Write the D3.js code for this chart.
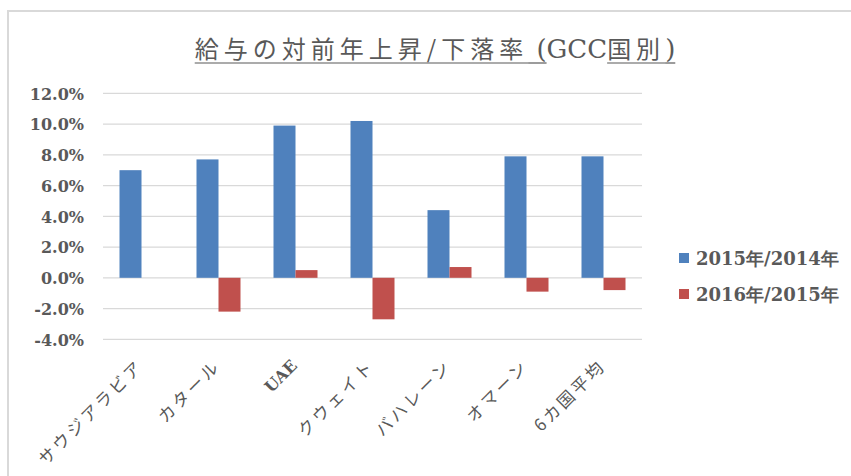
<!DOCTYPE html>
<html>
<head>
<meta charset="utf-8">
<script src="https://cdn.jsdelivr.net/npm/d3@7"></script>
<style>
  html, body { margin: 0; padding: 0; background: #fff; }
  svg { display: block; }
</style>
</head>
<body>
<div id="chart"></div>
<script>
var categories = ['サウジアラビア', 'カタール', 'UAE', 'クウェイト', 'バハレーン', 'オマーン', '6カ国平均']
var seriesNames = ['2015年/2014年', '2016年/2015年']
var values2015 = [7.0, 7.7, 9.9, 10.2, 4.4, 7.9, 7.9]
var values2016 = [null, -2.2, 0.5, -2.7, 0.7, -0.9, -0.8]
var yTicks = [-4, -2, 0, 2, 4, 6, 8, 10, 12]
var colors = ['#4F81BD', '#C0504D']

var W = 851, H = 476
var serif = '"DejaVu Serif", "Liberation Serif", serif'
var cjk = '"Noto Sans CJK JP", "Noto Sans CJK SC", sans-serif'
var textColor = '#595959'
var isLatin = function (s) { return /^[A-Z]+$/.test(s) }

var svg = d3.select('#chart').append('svg')
            .attr('width', W)
            .attr('height', H)

// chart border (runs off the right and bottom edges)
svg.append('rect')
   .attr('x', 8).attr('y', 11)
   .attr('width', W + 20).attr('height', H + 20)
   .attr('fill', 'none')
   .attr('stroke', '#D9D9D9')
   .attr('stroke-width', 2)

var plot = { left: 103, right: 642, top: 93.3, bottom: 339.3 }

var y = d3.scaleLinear().domain([-4, 12]).range([plot.bottom, plot.top])
var x0 = d3.scaleBand().domain(categories).range([plot.left, plot.right]).padding(0)
var x1 = d3.scaleBand().domain(seriesNames).range([0, x0.bandwidth()])
           .paddingInner(0).paddingOuter(0.75)

// gridlines
svg.append('g')
   .selectAll('line')
   .data(yTicks)
   .join('line')
   .attr('x1', plot.left).attr('x2', plot.right)
   .attr('y1', d => y(d)).attr('y2', d => y(d))
   .attr('stroke', '#D9D9D9')
   .attr('stroke-width', 1.3)

// y axis labels
var yAxis = d3.axisLeft(y).tickValues(yTicks).tickSize(0).tickPadding(0)
              .tickFormat(d => d.toFixed(1) + '%')
var gy = svg.append('g').attr('transform', 'translate(84,0)').call(yAxis)
gy.attr('font-family', null).attr('font-size', null)
gy.select('.domain').remove()
gy.selectAll('text')
  .attr('font-family', serif)
  .attr('font-weight', 'bold')
  .attr('font-size', 16)
  .attr('fill', textColor)
  .attr('dy', '0.36em')

// bars
var series = [values2015, values2016]
var rows = []
categories.forEach(function (c, i) {
  series.forEach(function (s, j) {
    if (s[i] != null) rows.push({ cat: c, name: seriesNames[j], v: s[i], k: j })
  })
})
svg.append('g')
   .selectAll('rect')
   .data(rows)
   .join('rect')
   .attr('x', d => x0(d.cat) + x1(d.name))
   .attr('width', x1.bandwidth())
   .attr('y', d => y(Math.max(0, d.v)))
   .attr('height', d => Math.abs(y(d.v) - y(0)))
   .attr('fill', d => colors[d.k])

// x axis labels, rotated
svg.append('g')
   .selectAll('text')
   .data(categories)
   .join('text')
   .attr('transform', d => 'translate(' + (x0(d) + x0.bandwidth() / 2 - 7) + ',357) rotate(-45)')
   .attr('text-anchor', 'end')
   .attr('dy', '0.85em')
   .attr('font-family', d => isLatin(d) ? serif : cjk)
   .attr('font-weight', d => isLatin(d) ? 'bold' : 'normal')
   .attr('font-size', d => isLatin(d) ? 16 : 17)
   .attr('letter-spacing', d => isLatin(d) ? 0 : 3)
   .attr('fill', textColor)
   .text(d => d)

// legend
var legend = svg.append('g')
                .selectAll('g')
                .data(seriesNames)
                .join('g')
                .attr('transform', (d, i) => 'translate(679,' + (253 + i * 36) + ')')
legend.append('rect')
      .attr('width', 10).attr('height', 10)
      .attr('fill', (d, i) => colors[i])
legend.append('text')
      .attr('x', 17).attr('y', 12)
      .attr('font-family', serif)
      .attr('font-weight', 'bold')
      .attr('font-size', 18)
      .attr('fill', textColor)
      .text(d => d)

// title with underlined pieces
var titleParts = [
  { t: '給与の対前年上昇/下落率', u: true, f: cjk },
  { t: ' (', u: true, f: serif },
  { t: 'GCC', u: false, f: serif },
  { t: '国別', u: true, f: cjk },
  { t: ')', u: true, f: serif }
]
var title = svg.append('text')
               .attr('x', 435).attr('y', 58)
               .attr('text-anchor', 'middle')
               .attr('fill', textColor)
var spans = title.selectAll('tspan')
                 .data(titleParts)
                 .join('tspan')
                 .attr('font-family', d => d.f)
                 .attr('font-size', d => d.f === cjk ? 24 : 26)
                 .attr('letter-spacing', d => d.f === cjk ? 5 : 0)
                 .text(d => d.t)
spans.each(function (d) {
  if (!d.u) return
  var n = this.getNumberOfChars()
  var a = this.getStartPositionOfChar(0)
  var b = this.getEndPositionOfChar(n - 1)
  svg.append('line')
     .attr('x1', a.x).attr('x2', b.x)
     .attr('y1', 63).attr('y2', 63)
     .attr('stroke', textColor)
     .attr('stroke-width', 1.2)
})
</script>
</body>
</html>
